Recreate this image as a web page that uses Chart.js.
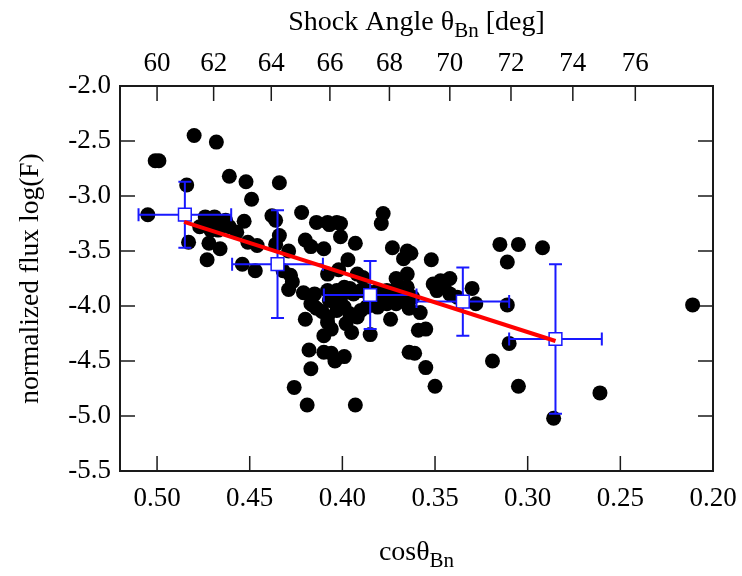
<!DOCTYPE html>
<html><head><meta charset="utf-8">
<script src="https://cdn.jsdelivr.net/npm/chart.js@4.4.1/dist/chart.umd.min.js"></script>
<style>html,body{margin:0;padding:0;background:#fff;}#wrap{width:742px;height:576px;}</style>
</head><body><div id="wrap"><canvas id="c" width="742" height="576"></canvas></div>
<script>
// scatter data: cos(theta_Bn) and normalized flux log(F)
const cosTheta = [
 0.505,0.501,0.499,0.480,0.468,0.461,0.452,0.434,0.484,0.449,0.422,0.438,0.436,0.378,0.379,0.414,0.408,0.407,0.403,0.401,
 0.453,0.474,0.469,0.463,0.461,0.457,0.477,0.471,0.467,0.472,0.466,0.483,0.451,0.446,0.434,0.436,0.429,0.420,0.417,0.410,
 0.401,0.393,0.373,0.365,0.367,0.352,0.473,0.454,0.447,0.432,0.428,0.427,0.429,0.397,0.402,0.392,0.389,0.371,0.365,0.408,
 0.363,0.421,0.416,0.411,0.408,0.406,0.420,0.410,0.395,0.385,0.374,0.358,0.359,0.355,0.418,0.410,0.406,0.404,0.399,0.364,
 0.361,0.417,0.355,0.426,0.419,0.393,0.311,0.366,0.351,0.347,0.342,0.349,0.345,0.342,0.338,0.330,0.328,0.311,0.364,0.310,
 0.319,0.350,0.305,0.261,0.286,0.211,0.315,0.305,0.292,
 0.415,0.408,0.403,0.399,0.396,0.394,0.390,0.387,0.381,0.376,0.372,0.369,0.365,0.362,0.417,0.414,0.408,0.403,0.399,0.396,
 0.392,0.398,0.390,0.387,0.381,0.376,0.371,0.365,0.385,0.380,0.374,0.401,0.407
];
const logFlux = [
 -3.17,-2.68,-2.68,-2.45,-2.51,-2.82,-2.87,-2.88,-2.90,-3.03,-3.15,-3.18,-3.22,-3.16,-3.25,-3.24,-3.24,-3.26,-3.24,-3.25,
 -3.23,-3.19,-3.19,-3.22,-3.28,-3.33,-3.28,-3.31,-3.31,-3.43,-3.48,-3.42,-3.42,-3.45,-3.36,-3.44,-3.50,-3.40,-3.46,-3.48,
 -3.37,-3.43,-3.47,-3.50,-3.57,-3.58,-3.58,-3.62,-3.68,-3.68,-3.72,-3.78,-3.85,-3.58,-3.67,-3.71,-3.74,-3.75,-3.71,-3.71,
 -3.52,-3.88,-3.99,-4.05,-4.15,-4.21,-4.12,-4.27,-4.24,-4.26,-4.12,-4.06,-4.22,-4.21,-4.40,-4.42,-4.43,-4.50,-4.46,-4.42,
 -4.43,-4.57,-4.56,-4.74,-4.90,-4.90,-3.60,-3.83,-3.80,-3.77,-3.75,-3.86,-3.83,-3.89,-3.92,-3.84,-3.98,-3.99,-4.02,-4.34,
 -4.50,-4.73,-4.73,-4.79,-5.02,-3.99,-3.44,-3.44,-3.47,
 -3.89,-3.86,-3.86,-3.83,-3.84,-3.89,-3.86,-3.86,-3.86,-3.86,-3.86,-3.89,-3.83,-3.92,-3.98,-4.02,-4.10,-4.04,-4.01,-4.07,
 -4.10,-4.16,-4.04,-4.01,-4.01,-3.98,-3.98,-3.96,-3.93,-3.93,-3.91,-3.93,-3.95
];
// binned means with errors
const binCos = [0.485, 0.435, 0.385, 0.335, 0.285];
const binFlux = [-3.17, -3.62, -3.90, -3.96, -4.30];
const binCosErr = [0.025, 0.0245, 0.025, 0.025, 0.025];
const binFluxErr = [0.30, 0.49, 0.31, 0.31, 0.68];
// linear fit endpoints
const fitCos = [0.4854, 0.285];
const fitFlux = [-3.236, -4.318];
// tick labels
const xTickVals = [0.50, 0.45, 0.40, 0.35, 0.30, 0.25, 0.20];
const yTickVals = [-5.5, -5.0, -4.5, -4.0, -3.5, -3.0, -2.5, -2.0];
const topAngles = [60, 62, 64, 66, 68, 70, 72, 74, 76];
const xTitleParts = [["cos\u03B8", false], ["Bn", true]];
const topTitleParts = [["Shock Angle \u03B8", false], ["Bn", true], [" [deg]", false]];
const yTitle = "normalized flux log(F)";

const FONT = "'Liberation Serif', 'Times New Roman', serif";
const BLUE = "rgb(25,25,255)";

const pts = cosTheta.map((c, i) => ({x: c, y: logFlux[i]}));
const bins = binCos.map((c, i) => ({x: c, y: binFlux[i]}));
const fit = fitCos.map((c, i) => ({x: c, y: fitFlux[i]}));

function drawRich(ctx, parts, cx, baseline, size, subSize) {
  let total = 0;
  const widths = parts.map(([t, sub]) => {
    ctx.font = (sub ? subSize : size) + "px " + FONT;
    const w = ctx.measureText(t).width; total += w; return w;
  });
  let x = cx - total / 2;
  ctx.textAlign = "left"; ctx.textBaseline = "alphabetic"; ctx.fillStyle = "#000";
  parts.forEach(([t, sub], i) => {
    ctx.font = (sub ? subSize : size) + "px " + FONT;
    ctx.fillText(t, x, baseline + (sub ? 7 : 0));
    x += widths[i];
  });
}

const framePlugin = {
  id: "frame",
  beforeDatasetsDraw(chart) {
    const {ctx, chartArea: a, scales} = chart;
    ctx.save();
    ctx.strokeStyle = "#1a1a1a"; ctx.lineWidth = 1.5;
    ctx.beginPath();
    const L = 15;
    scales.x.ticks.forEach(t => { const p = scales.x.getPixelForValue(t.value); ctx.moveTo(p, a.bottom); ctx.lineTo(p, a.bottom - L); });
    scales.x2.ticks.forEach(t => { const p = scales.x2.getPixelForValue(t.value); ctx.moveTo(p, a.top); ctx.lineTo(p, a.top + L); });
    scales.y.ticks.forEach(t => { const p = scales.y.getPixelForValue(t.value); ctx.moveTo(a.left, p); ctx.lineTo(a.left + L, p); ctx.moveTo(a.right, p); ctx.lineTo(a.right - L, p); });
    ctx.stroke();
    ctx.lineWidth = 2;
    ctx.strokeRect(a.left, a.top, a.right - a.left, a.bottom - a.top);
    ctx.restore();
  },
  afterDatasetDraw(chart, args) {
    if (args.index !== 0) return;
    const {ctx, scales} = chart;
    const xs = scales.x, ys = scales.y, cap = 6.5;
    ctx.save();
    ctx.strokeStyle = BLUE; ctx.lineWidth = 2;
    ctx.beginPath();
    binCos.forEach((c, i) => {
      const f = binFlux[i];
      const px = xs.getPixelForValue(c), py = ys.getPixelForValue(f);
      const x1 = xs.getPixelForValue(c + binCosErr[i]), x2 = xs.getPixelForValue(c - binCosErr[i]);
      const y1 = ys.getPixelForValue(f + binFluxErr[i]), y2 = ys.getPixelForValue(f - binFluxErr[i]);
      ctx.moveTo(x1, py); ctx.lineTo(x2, py);
      ctx.moveTo(x1, py - cap); ctx.lineTo(x1, py + cap);
      ctx.moveTo(x2, py - cap); ctx.lineTo(x2, py + cap);
      ctx.moveTo(px, y1); ctx.lineTo(px, y2);
      ctx.moveTo(px - cap, y1); ctx.lineTo(px + cap, y1);
      ctx.moveTo(px - cap, y2); ctx.lineTo(px + cap, y2);
    });
    ctx.stroke();
    ctx.restore();
  },
  afterDraw(chart) {
    const {ctx, chartArea: a} = chart;
    ctx.save();
    const cx = (a.left + a.right) / 2;
    drawRich(ctx, topTitleParts, cx, 30, 28, 21);
    drawRich(ctx, xTitleParts, cx, 560, 28, 21);
    ctx.restore();
  }
};

const tickFont = {family: FONT, size: 27};
const noPad = s => { s.paddingLeft = 0; s.paddingRight = 0; s.paddingTop = 0; s.paddingBottom = 0; };

new Chart(document.getElementById("c"), {
  type: "scatter",
  data: {
    datasets: [
      {data: pts, order: 3, pointRadius: 7.5, pointHoverRadius: 7.5, backgroundColor: "#000", borderColor: "#000", borderWidth: 0},
      {data: bins, order: 2, pointStyle: "rect", pointRadius: 9, pointHoverRadius: 9, backgroundColor: "#fff", borderColor: BLUE, borderWidth: 1.5},
      {data: fit, order: 1, showLine: true, pointRadius: 0, borderColor: "#ff0000", borderWidth: 4}
    ]
  },
  options: {
    responsive: false,
    animation: false,
    devicePixelRatio: 1,
    layout: {padding: {left: 0, right: 29, top: 0, bottom: 0}},
    plugins: {legend: {display: false}, tooltip: {enabled: false}},
    scales: {
      x: {
        type: "linear", position: "bottom", min: 0.20, max: 0.52, reverse: true,
        grid: {display: false, drawTicks: false}, border: {display: false},
        afterBuildTicks: s => { s.ticks = xTickVals.map(v => ({value: v})); },
        afterFit: s => { s.height = 105; noPad(s); },
        ticks: {font: tickFont, color: "#000", padding: 12, maxRotation: 0, autoSkip: false,
          callback: v => Number(v).toFixed(2)}
      },
      x2: {
        type: "linear", axis: "x", position: "top", min: 0.20, max: 0.52, reverse: true,
        grid: {display: false, drawTicks: false}, border: {display: false},
        afterBuildTicks: s => { s.ticks = topAngles.map(d => ({value: Math.cos(d * Math.PI / 180)})); },
        afterFit: s => { s.height = 86; noPad(s); },
        ticks: {font: tickFont, color: "#000", padding: 6, maxRotation: 0, autoSkip: false,
          callback: (v, i) => String(topAngles[i])}
      },
      y: {
        type: "linear", position: "left", min: -5.5, max: -2.0,
        grid: {display: false, drawTicks: false}, border: {display: false},
        afterBuildTicks: s => { s.ticks = yTickVals.map(v => ({value: v})); },
        afterFit: s => { s.width = 120; noPad(s); },
        ticks: {font: tickFont, color: "#000", padding: 9, autoSkip: false,
          callback: v => Number(v).toFixed(1)},
        title: {display: true, text: yTitle, font: {family: FONT, size: 27.5}, color: "#000", padding: {top: 14, bottom: 0}}
      }
    }
  },
  plugins: [framePlugin]
});
</script>
</body></html>
